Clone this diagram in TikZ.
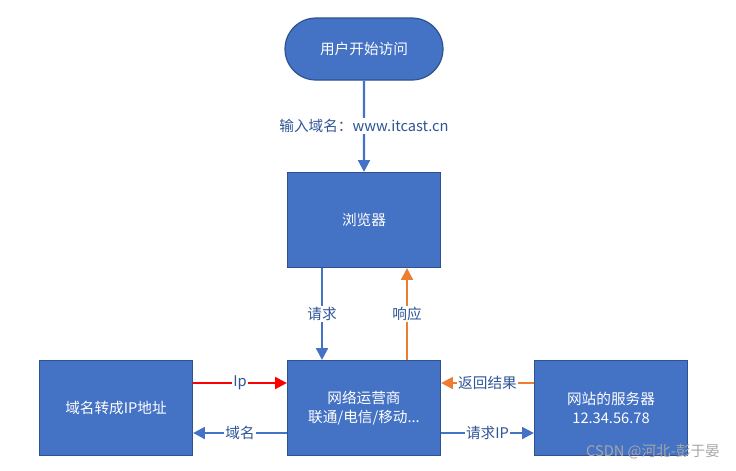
\documentclass[tikz,border=0pt]{standalone}
\usepackage{fontspec}
\setmainfont{Noto Sans CJK SC}
\usetikzlibrary{positioning,arrows.meta,shapes.misc}
\definecolor{boxblue}{HTML}{4472C4}
\definecolor{edgeblue}{HTML}{2F528F}
\definecolor{txtblue}{HTML}{2F5597}
\definecolor{orng}{HTML}{ED7D31}
\tikzset{
  box/.style={draw=edgeblue, line width=1pt, fill=boxblue, text=white, minimum width=153*0.03cm, minimum height=95*0.03cm, font=\fontsize{12.5}{16}\selectfont, align=center, inner sep=0pt},
  arr/.style={-{Triangle[length=10pt,width=10pt]}, line width=2pt, boxblue},
  lbl/.style={fill=white, text=txtblue, font=\fontsize{12.5}{16}\selectfont, inner sep=1pt}
}
\begin{document}
\begin{tikzpicture}[x=0.03cm,y=-0.03cm]
  \useasboundingbox (0,0) rectangle (736,470);

  \node[box, rounded rectangle, minimum width=158*0.03cm, minimum height=62*0.03cm] (start) at (364,49) {用户开始访问};
  \node[box] (browser) at (364,220) {浏览器};
  \node[box] (isp) at (364,408) {网络运营商\\联通/电信/移动...};
  \node[box] (dns) at (116,408) {域名转成IP地址};
  \node[box] (server) at (611,408) {网站的服务器\\12.34.56.78};

  % top to browser
  \draw[arr] (start) -- node[lbl] {输入域名：www.itcast.cn} (browser);

  % browser and isp
  \draw[arr] ([xshift=-42*0.03cm]browser.south) -- node[lbl] {请求} ([xshift=-42*0.03cm]isp.north);
  \draw[arr, orng] ([xshift=43*0.03cm]isp.north) -- node[lbl] {响应} ([xshift=43*0.03cm]browser.south);

  % dns and isp
  \draw[arr, red] ([yshift=25*0.03cm]dns.east) -- node[lbl] {Ip} ([yshift=25*0.03cm]isp.west);
  \draw[arr] ([yshift=-25*0.03cm]isp.west) -- node[lbl] {域名} ([yshift=-25*0.03cm]dns.east);

  % server and isp
  \draw[arr, orng] ([yshift=25*0.03cm]server.west) -- node[lbl] {返回结果} ([yshift=25*0.03cm]isp.east);
  \draw[arr] ([yshift=-25*0.03cm]isp.east) -- node[lbl] {请求IP} ([yshift=-25*0.03cm]server.west);

  \node[text=gray!70, font=\fontsize{12.5}{16}\selectfont, anchor=east] (mark) at (724,452) {CSDN @河北-彭于晏};
\end{tikzpicture}
\end{document}
